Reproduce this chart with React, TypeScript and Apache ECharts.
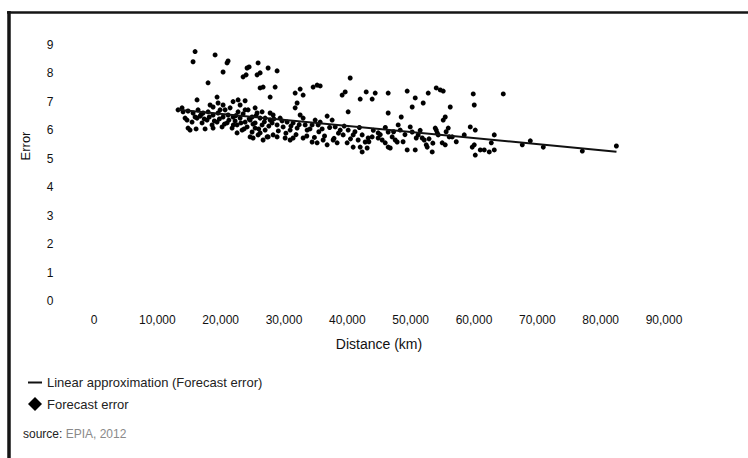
import React, { useEffect, useRef } from "react";
import * as echarts from "echarts";

// Forecast error scatter: distance (km) and error values
const distanceKm: number[] = [
  15960, 15640, 19120, 21170, 21010, 20380, 18010, 24170, 24490, 23540,
  24020, 25910, 25750, 26230, 27490, 28910, 26230, 26700, 28600, 27810,
  31760, 32550, 33020, 34600, 35230, 35710, 39180, 39660, 40450, 42030,
  42980, 43920, 44400, 46450, 49450, 50720, 52770, 51980, 54040, 54670,
  55140, 50240, 56250, 59880, 60040, 64620, 16270, 19430, 19590, 20380,
  21960, 22750, 23860, 32070, 31760, 40130, 46450, 48510, 55140, 55460,
  18330, 18800, 28280, 27810,
  13270, 14060, 14850, 15640, 16430, 17220, 18010, 18800, 19590, 20380,
  21170, 21960, 22750, 23540, 24330, 24960, 25750, 26540, 27020, 27810,
  14690, 15480, 16270, 17060, 17850, 18640, 19430, 20220, 21010, 21800,
  22590, 23380, 24170, 24960, 25440, 26230, 27020, 27490,
  14850, 15170, 16120, 17540, 18800, 22590, 24650, 25120, 25910, 26700, 27330,
  14380, 15960, 13900, 16750, 20700, 21490, 22280, 23070, 23860, 24650,
  25440, 26230, 26540, 23860, 25440, 23070, 19910,
  28910, 29860, 30490, 30970, 31440, 32070, 33020, 33340, 33650, 34440,
  34920, 35390, 36020, 36810, 37600, 38080, 38870, 39340, 40130, 40920,
  41710, 42340, 42820, 43290, 43920,
  28280, 28910, 30180, 30970, 31440, 33020, 34440, 35230, 36180, 36810,
  37760, 38390, 39970, 40920, 42030, 42340, 43130, 28120, 29390, 32550, 35710,
  44870, 46450, 47080, 47560, 48030, 48350, 49930, 50240, 51190, 51820,
  52610, 53880, 54190, 54350, 55930, 56560, 54980, 55460, 49450, 50720,
  53400, 46450, 46770, 45500, 45980, 59410, 60200, 59720, 60200, 60990,
  44870, 47870, 50880, 52140, 52460, 56090, 58460, 54040, 60040, 61620,
  62410, 63200, 62730, 63200, 67620, 68890, 70940, 77100, 82480,
  16900, 17400, 18200, 19000, 19800, 20600, 21300, 22000, 22400, 23200,
  23700, 24500, 25100, 25600, 26000, 26900, 27600, 28400, 29100, 29700,
  30300, 31100, 31900, 32400, 33600, 34100, 34800, 35500, 36400, 37200,
  37900, 38600, 39500, 40500, 41200, 41900, 43400, 44100, 45200, 46000,
  47300, 48800, 49100, 51500, 52900, 53500, 55600, 57200,
];

const forecastError: number[] = [
  8.77, 8.41, 8.65, 8.44, 8.37, 8.05, 7.67, 8.19, 8.23, 7.88,
  7.95, 8.37, 7.95, 8.02, 8.19, 8.09, 7.49, 7.52, 7.52, 7.17,
  7.31, 7.45, 7.24, 7.52, 7.59, 7.56, 7.24, 7.35, 7.84, 7.10,
  7.35, 7.10, 7.31, 7.31, 7.38, 7.14, 7.31, 6.96, 7.49, 7.42,
  7.38, 6.82, 6.82, 7.28, 6.89, 7.28, 7.07, 7.17, 6.96, 6.89,
  7.01, 7.07, 7.04, 6.96, 6.79, 6.65, 6.61, 6.47, 6.36, 6.47,
  6.89, 6.82, 6.54, 6.61,
  6.72, 6.65, 6.68, 6.61, 6.72, 6.61, 6.65, 6.54, 6.61, 6.47,
  6.54, 6.47, 6.65, 6.58, 6.72, 6.47, 6.61, 6.65, 6.43, 6.36,
  6.36, 6.29, 6.43, 6.26, 6.36, 6.19, 6.29, 6.12, 6.26, 6.08,
  6.19, 6.01, 6.12, 5.94, 6.08, 5.91, 6.01, 5.77,
  6.08, 6.01, 6.05, 6.05, 6.08, 5.91, 5.77, 5.73, 5.84, 5.66, 5.77,
  6.43, 6.47, 6.79, 6.50, 6.72, 6.79, 6.33, 6.43, 6.29, 6.36,
  6.26, 6.43, 6.19, 6.72, 6.79, 6.89, 6.72,
  6.19, 6.12, 6.29, 6.01, 6.26, 6.08, 6.43, 6.19, 6.01, 6.19,
  6.36, 6.19, 6.05, 6.50, 6.36, 6.12, 6.01, 5.84, 6.01, 5.84,
  5.66, 5.84, 5.59, 5.73, 5.77,
  5.84, 5.77, 5.73, 5.66, 5.73, 5.73, 5.59, 5.56, 5.66, 5.49,
  5.66, 5.56, 5.56, 5.41, 5.41, 5.24, 5.38, 6.26, 6.43, 6.54, 6.29,
  5.91, 5.94, 5.77, 5.66, 6.19, 6.01, 6.12, 5.94, 5.84, 5.73,
  5.41, 6.08, 5.91, 5.84, 6.08, 5.77, 5.56, 5.49, 5.31, 5.31,
  5.24, 5.41, 5.38, 5.66, 5.56, 6.12, 6.01, 5.41, 5.13, 5.31,
  5.73, 5.59, 5.73, 5.66, 5.49, 5.77, 5.84, 6.01, 5.49, 5.31,
  5.24, 5.31, 5.56, 5.84, 5.49, 5.63, 5.41, 5.27, 5.45,
  6.55, 6.40, 6.47, 6.33, 6.40, 6.22, 6.36, 6.19, 6.52, 6.26,
  6.05, 6.40, 6.22, 6.52, 6.05, 6.30, 6.15, 6.40, 5.98, 6.33,
  5.90, 6.15, 5.85, 6.20, 5.80, 6.05, 5.75, 5.95, 5.80, 6.10,
  5.72, 5.90, 6.15, 5.70, 5.95, 6.10, 5.60, 6.00, 5.85, 6.10,
  5.95, 5.60, 5.85, 6.00, 5.70, 5.55, 5.95, 5.60,
];

// Linear approximation end points
const trendDistance: number[] = [13300, 82500];
const trendError: number[] = [6.72, 5.25];

const xTicks: number[] = [0, 10000, 20000, 30000, 40000, 50000, 60000, 70000, 80000, 90000];
const yTicks: number[] = [0, 1, 2, 3, 4, 5, 6, 7, 8, 9];

const LINE_NAME = "Linear approximation (Forecast error)";
const SCATTER_NAME = "Forecast error";
const FONT = "'Liberation Sans', Arial, Helvetica, sans-serif";

export default function App() {
  const ref = useRef<HTMLDivElement>(null);

  useEffect(() => {
    if (!ref.current) return;
    const chart = echarts.init(ref.current, undefined, { renderer: "svg" });
    const scatterData = distanceKm.map((d, i) => [d, forecastError[i]]);
    const trendData = trendDistance.map((d, i) => [d, trendError[i]]);

    chart.setOption({
      animation: false,
      backgroundColor: "#ffffff",
      textStyle: { fontFamily: FONT },
      grid: { left: 94, right: 84, top: 45, bottom: 157, containLabel: false },
      xAxis: {
        type: "value",
        min: xTicks[0],
        max: xTicks[xTicks.length - 1],
        interval: xTicks[1] - xTicks[0],
        name: "Distance (km)",
        nameLocation: "middle",
        nameGap: 36,
        nameTextStyle: { fontSize: 14, color: "#111", fontFamily: FONT },
        axisLine: { show: false },
        axisTick: { show: false },
        splitLine: { show: false },
        axisLabel: {
          margin: 13,
          fontSize: 12,
          color: "#111",
          fontFamily: FONT,
          formatter: (v: number) => v.toLocaleString("en-US"),
        },
      },
      yAxis: {
        type: "value",
        min: yTicks[0],
        max: yTicks[yTicks.length - 1],
        interval: yTicks[1] - yTicks[0],
        axisLine: { show: false },
        axisTick: { show: false },
        splitLine: { show: false },
        axisLabel: {
          margin: 44,
          align: "center",
          fontSize: 12,
          color: "#111",
          fontFamily: FONT,
        },
      },
      legend: {
        orient: "vertical",
        left: 23,
        top: 371,
        itemWidth: 14,
        itemHeight: 14,
        itemGap: 8,
        textStyle: { fontSize: 13, color: "#222", fontFamily: FONT },
        data: [
          { name: LINE_NAME, icon: "path://M0,0L14,0L14,2L0,2Z", itemStyle: { color: "#111" } },
          { name: SCATTER_NAME, icon: "diamond", itemStyle: { color: "#000" } },
        ],
      },
      graphic: [
        {
          type: "line",
          shape: { x1: 7, y1: 12.5, x2: 748, y2: 12.5 },
          style: { stroke: "#151515", lineWidth: 2.5 },
          silent: true,
        },
        {
          type: "line",
          shape: { x1: 9, y1: 11, x2: 9, y2: 458 },
          style: { stroke: "#151515", lineWidth: 3.5 },
          silent: true,
        },
        {
          type: "text",
          x: 25,
          y: 146,
          rotation: Math.PI / 2,
          style: {
            text: "Error",
            fontSize: 13,
            fill: "#111",
            fontFamily: FONT,
            align: "center",
            verticalAlign: "middle",
          },
          silent: true,
        },
        {
          type: "text",
          left: 23,
          top: 428,
          style: {
            text: "{a|source:} {b|EPIA, 2012}",
            rich: {
              a: { fontSize: 12, fill: "#222", fontFamily: FONT },
              b: { fontSize: 12, fill: "#8a8a8a", fontFamily: FONT },
            },
          },
          silent: true,
        },
      ],
      series: [
        {
          name: LINE_NAME,
          type: "line",
          data: trendData,
          symbol: "none",
          lineStyle: { color: "#111", width: 2 },
          itemStyle: { color: "#111" },
          z: 3,
        },
        {
          name: SCATTER_NAME,
          type: "scatter",
          data: scatterData,
          symbol: "circle",
          symbolSize: 5,
          itemStyle: { color: "#000", opacity: 1 },
          z: 2,
        },
      ],
    });

    return () => chart.dispose();
  }, []);

  return (
    <div
      ref={ref}
      style={{ position: "absolute", left: 0, top: 0, width: 748, height: 458 }}
    />
  );
}
